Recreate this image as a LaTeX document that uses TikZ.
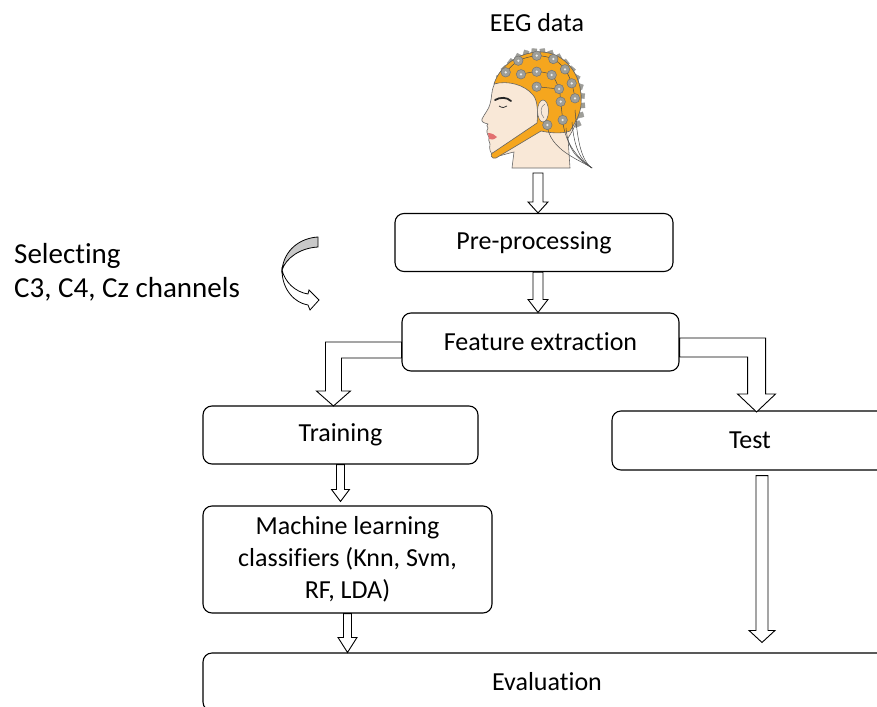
\documentclass[tikz,border=0pt]{standalone}
\usepackage{fontspec}
\setmainfont{Carlito}[Ligatures=NoCommon]
\usepackage{tikz}
\usetikzlibrary{calc}

\definecolor{capcol}{RGB}{245,166,30}
\definecolor{skin}{RGB}{249,232,215}
\definecolor{elgray}{RGB}{158,158,152}
\definecolor{lipred}{RGB}{226,112,112}
\definecolor{arrgray}{RGB}{200,200,200}

\newcommand{\boxfont}{\fontsize{26}{32}\selectfont}
\newcommand{\bigfont}{\fontsize{29}{34}\selectfont}

\begin{document}
\begin{tikzpicture}[x=1pt, y=-1pt,
  stepbox/.style={draw, rounded corners=9pt, line width=1.1pt, fill=white,
    minimum height=58pt, inner sep=0pt, align=center, font=\boxfont},
  blockarr/.style={draw, fill=white, line width=0.9pt, line join=miter},
  electrode/.style={circle, draw=black!55, fill=elgray, line width=0.5pt, minimum size=9.5pt, inner sep=0pt},
  tab/.style={rectangle, fill=elgray, draw=black!40, line width=0.3pt, minimum width=6pt, minimum height=5pt, inner sep=0pt}]
\newcommand{\DownArr}[5]{% from #1 to tip #2, half shaft #3, half head #4, head length #5
  \draw[blockarr] ($(#1)+(-#3,0)$) -- ($(#2)+(-#3,-#5)$) -- ($(#2)+(-#4,-#5)$) -- (#2)
    -- ($(#2)+(#4,-#5)$) -- ($(#2)+(#3,-#5)$) -- ($(#1)+(#3,0)$) -- cycle;}

\useasboundingbox (0,0) rectangle (877,706);
\clip (0,0) rectangle (877,706);

% labels
\node[font=\boxfont, inner sep=0pt] (eeg) at (537,23) {EEG data};
\node[font=\bigfont, align=left, anchor=west, inner sep=0pt] (sel) at (14,272) {Selecting\\C3, C4, Cz channels};

% head with EEG cap
\foreach \a in {-150,-139,...,30}
  \node[tab, rotate=\a] at ($(538,102)+(\a:44 and 50.5)$) {};
\draw[draw=black!60, fill=skin, line width=0.6pt]
  (512,168) -- (514,152)
  .. controls (505,154) and (498,157) .. (494,156)
  .. controls (490,153) and (489,149) .. (490,144)
  .. controls (489,141) and (488,139) .. (489,137)
  .. controls (487,134) and (486,131) .. (488,128)
  .. controls (487,126) and (486,125) .. (488,124)
  .. controls (484,123) and (481,122) .. (482,119)
  .. controls (485,113) and (489,109) .. (490,104)
  .. controls (492,98) and (491,92) .. (494,85)
  .. controls (500,65) and (520,52) .. (540,52)
  .. controls (565,52) and (582,75) .. (581,100)
  .. controls (580,115) and (575,128) .. (568,138)
  -- (570,168) -- cycle;
\draw[draw=black!60, fill=capcol, line width=0.6pt]
  (494,84) .. controls (508,80) and (525,85) .. (533,95)
  .. controls (538,100) and (538,115) .. (537,123)
  -- (494,152)
  .. controls (491,153) and (490,156) .. (493,158)
  -- (496,158) -- (541,131)
  .. controls (550,133) and (562,134) .. (570,131)
  .. controls (577,120) and (582,110) .. (581,100)
  .. controls (582,75) and (565,52) .. (540,52)
  .. controls (520,52) and (500,65) .. (494,84) -- cycle;
\draw[draw=black!60, fill=skin, line width=0.5pt] (543,111) ellipse (5.5 and 11);
\draw[black!50, line width=0.5pt] (545,104) .. controls (540,106) and (540,114) .. (544,118);
% electrode wiring
\draw[black!70, line width=0.5pt] plot[smooth] coordinates {(505.7,72.3) (518.3,60.7) (536.7,55.7) (553.3,59) (565,69.3) (571.7,83.3) (575,98.3)};
\draw[black!70, line width=0.5pt] plot[smooth] coordinates {(521,74.3) (536.7,71.7) (551.7,75) (559,89) (560.7,101.7) (562.7,120)};
\draw[black!70, line width=0.5pt] (536.7,86.7) -- (559,89);
\foreach \x/\y in {547.3/125, 562.7/120, 566/128, 572/122, 575/110}
  \draw[black!70, line width=0.5pt] (\x,\y) .. controls ($(\x,\y)+(2,25)$) and (580,160) .. (592,168);
\foreach \x/\y in {518.3/60.7, 536.7/55.7, 553.3/59, 565/69.3, 505.7/72.3, 521/74.3,
    536.7/71.7, 551.7/75, 571.7/83.3, 536.7/86.7, 559/89, 575/98.3, 560.7/101.7,
    562.7/120, 547.3/125}
  \node[electrode] at (\x,\y) {} node[circle, fill=white!85!gray, minimum size=2.5pt, inner sep=0pt] at (\x,\y) {};
% face
\draw[black!85, line width=1.8pt, line cap=round] (495,100) .. controls (500,97) and (507,97) .. (511,101);
\draw[black!80, line width=0.8pt] (499,106) .. controls (502,108) and (505,108) .. (507,106);
\fill[lipred] (488,133) .. controls (492,133) and (495,135) .. (497,137) .. controls (494,140) and (491,140) .. (489,139) -- cycle;

% boxes
\node[stepbox, minimum width=278pt] (pre) at (534,242.5) {Pre-processing};
\node[stepbox, minimum width=277pt] (feat) at (540.5,342) {Feature extraction};
\node[stepbox, minimum width=275pt] (train) at (340.5,435) {Training};
\node[stepbox, minimum width=276pt, minimum height=59pt] (test) at (750,440.5) {Test};
\node[stepbox, minimum width=289pt, minimum height=107pt] (ml) at (347.5,559.5) {Machine learning\\classifiers (Knn, Svm,\\RF, LDA)};
\node[stepbox, minimum width=688pt] (eval) at (547,682) {Evaluation};

% straight arrows
\coordinate (h0) at (538,173);
\coordinate (h1) at (pre.north -| h0);
\coordinate (p0) at (pre.south -| h0);
\coordinate (p1) at (feat.north -| h0);
\coordinate (t0) at (train.south);
\coordinate (t1) at ($(ml.north -| t0)+(0,-4)$);
\coordinate (m0) at (ml.south);
\coordinate (m1) at (eval.north -| m0);
\coordinate (s0) at ($(test.south)+(12,5)$);
\coordinate (s1) at ($(eval.north -| s0)+(0,-10)$);
\DownArr{h0}{h1}{5}{10}{11}
\DownArr{p0}{p1}{5}{10}{13}
\DownArr{t0}{t1}{4}{9}{12}
\DownArr{m0}{m1}{4}{9.5}{15}
\DownArr{s0}{s1}{6}{13}{12}

% bent arrows
\draw[blockarr] (feat.west) -- ++(-76,0) -- ++(0,49) -- ++(-9,0) -- ++(17,15) -- ++(17,-15)
  -- ++(-9,0) -- ++(0,-33) -- ++(60,0) -- cycle;
\draw[blockarr] ($(feat.east)+(0,-4)$) -- ++(86,0) -- ++(0,56) -- ++(10,0) -- ++(-19,18)
  -- ++(-19,-18) -- ++(10,0) -- ++(0,-37) -- ++(-68,0) -- cycle;

% curved arrow
\draw[blockarr, fill=arrgray, line width=0.8pt] (318,237) .. controls (300,238) and (284,250) .. (282,270)
  .. controls (286,258) and (300,248) .. (318,247) -- cycle;
\draw[blockarr, line width=0.8pt] (282,270) .. controls (282,290) and (295,303) .. (308,305)
  -- (310,310) -- (319,300) -- (309,290) -- (308,294) .. controls (295,292) and (285,282) .. (282,270) -- cycle;
\end{tikzpicture}
\end{document}
